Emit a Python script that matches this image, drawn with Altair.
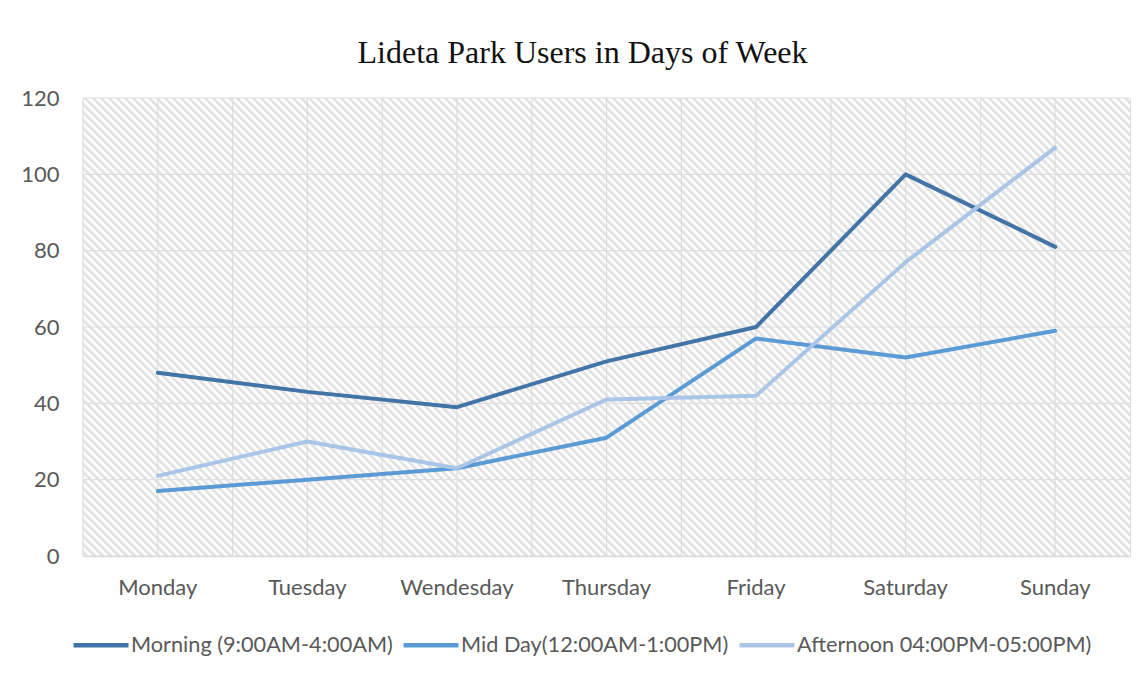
import altair as alt
import pandas as pd

# ---- data ----
days = ["Monday", "Tuesday", "Wendesday", "Thursday", "Friday", "Saturday", "Sunday"]
series = ["Morning (9:00AM-4:00AM)", "Mid Day(12:00AM-1:00PM)", "Afternoon 04:00PM-05:00PM)"]
morning = [48, 43, 39, 51, 60, 100, 81]
midday = [17, 20, 23, 31, 57, 52, 59]
afternoon = [21, 30, 23, 41, 42, 77, 107]
y_ticks = [0, 20, 40, 60, 80, 100, 120]
colors = ["#4374A8", "#5B9BD5", "#A9C5E7"]

rows = []
for name, vals in zip(series, [morning, midday, afternoon]):
    for d, v in zip(days, vals):
        rows.append({"day": d, "value": v, "series": name})
df = pd.DataFrame(rows)

W, H = 1047, 458
LABEL_FONT = "Lato"
FS = 22
GRID = "#dedede"

# ---- soft diagonal hatch for the plot area (style only) ----
period = 8
n = -(-(W + H) // period)
L = n * period
stripe, blank = "#e3e3e3", "#ffffff"
stops = []
for i in range(n):
    base = i * period
    for off, col in [(0, blank), (1, blank), (3, stripe), (5, stripe), (7, blank)]:
        stops.append({"offset": (base + off) / L, "color": col})
stops.append({"offset": 1.0, "color": blank})
k = L / (W * W + H * H)
hatch = {"gradient": "linear", "x1": 0, "y1": 1, "x2": k * W, "y2": 1 - k * H, "stops": stops}

xscale = alt.Scale(type="band", domain=days, paddingInner=0, paddingOuter=0)
yscale = alt.Scale(domain=[0, 120], nice=False)

xaxis = alt.Axis(
    title=None, grid=False, ticks=False, domain=True, domainColor="#d9d9d9",
    domainWidth=1.5, labelFont=LABEL_FONT, labelFontSize=FS, labelColor="#595959",
    labelPadding=21, bandPosition=0.5, labelAngle=0,
)
yaxis = alt.Axis(
    title=None, grid=False, ticks=False, domain=False, values=y_ticks,
    labelFont=LABEL_FONT, labelFontSize=FS, labelColor="#595959", labelPadding=24,
)

bg = alt.Chart(alt.Data(values=[{}])).mark_rect(fill=hatch).encode(
    y=alt.YDatum(120, scale=yscale, axis=yaxis),
    y2=alt.Y2Datum(0),
)

hgrid = alt.Chart(pd.DataFrame({"v": y_ticks})).mark_rule(color=GRID, strokeWidth=1.2).encode(
    y=alt.Y("v:Q", scale=yscale, axis=yaxis)
)

vgrid_edge = alt.Chart(pd.DataFrame({"day": days})).mark_rule(color=GRID, strokeWidth=1.2).encode(
    x=alt.X("day:N", scale=xscale, axis=xaxis, bandPosition=0)
)
vgrid_mid = alt.Chart(pd.DataFrame({"day": days})).mark_rule(color=GRID, strokeWidth=1.2).encode(
    x=alt.X("day:N", scale=xscale, axis=xaxis, bandPosition=0.5)
)

lines = alt.Chart(df).mark_line(strokeWidth=4, strokeCap="round", strokeJoin="round").encode(
    x=alt.X("day:N", scale=xscale, axis=xaxis, bandPosition=0.5),
    y=alt.Y("value:Q", scale=yscale, axis=yaxis),
    color=alt.Color(
        "series:N",
        scale=alt.Scale(domain=series, range=colors),
        title=None,
        legend=alt.Legend(
            orient="none", legendX=-12, legendY=517, direction="horizontal",
            symbolType="stroke", symbolSize=3025, symbolStrokeWidth=4.5,
            labelFont=LABEL_FONT, labelFontSize=21.7, labelColor="#595959",
            labelLimit=600, labelOffset=0, columnPadding=1, padding=0,
        ),
    ),
)

chart = alt.layer(bg, hgrid, vgrid_edge, vgrid_mid, lines).properties(
    width=W,
    height=H,
    title=alt.TitleParams(
        "Lideta Park Users in Days of Week", font="Liberation Serif", fontSize=32,
        fontWeight="normal", color="#111111", anchor="middle", dx=-24, offset=17,
    ),
    autosize=alt.AutoSizeParams(type="none"),
    padding={"left": 75, "top": 90, "right": 7, "bottom": 111},
).configure_view(stroke="#e0e0e0", strokeWidth=1.2).configure(background="white")

chart.save("out.html", embed_options={"renderer": "svg", "actions": False})
